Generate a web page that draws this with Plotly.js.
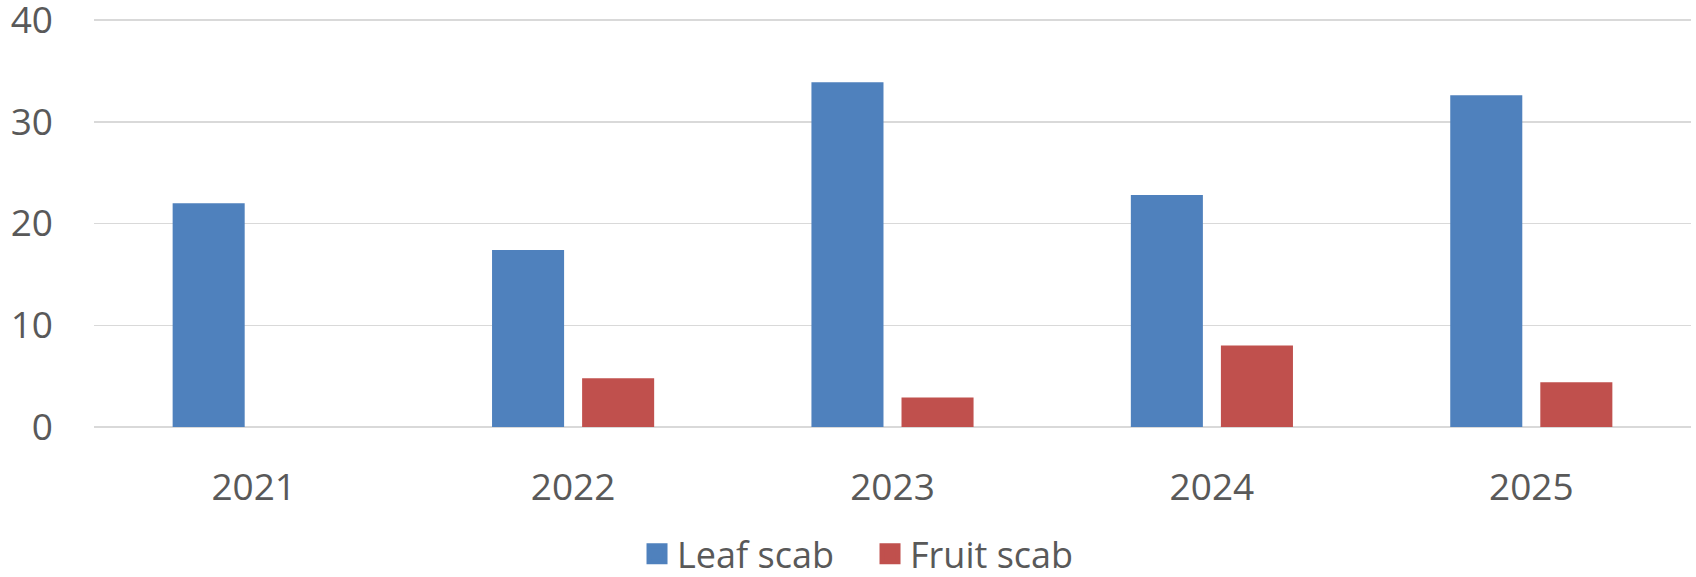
<!DOCTYPE html>
<html>
<head>
<meta charset="utf-8">
<script src="https://cdn.plot.ly/plotly-3.0.1.min.js"></script>
<style>html,body{margin:0;padding:0;background:#fff;}#chart{width:1696px;height:577px;}</style>
</head>
<body>
<div id="chart"></div>
<script>
const years = ['2021', '2022', '2023', '2024', '2025'];
const leafScab = [22.0, 17.4, 33.9, 22.8, 32.6];
const fruitScab = [null, 4.8, 2.9, 8.0, 4.4];
const seriesNames = ['Leaf scab', 'Fruit scab'];
const yTicks = [0, 10, 20, 30, 40];

const blue = '#4F81BD', red = '#C0504D';
const textColor = '#595959';
const fontFam = '"Open Sans", "Liberation Sans", sans-serif';

const traces = [
  {type: 'bar', x: years, y: leafScab, name: seriesNames[0], marker: {color: blue}, showlegend: false},
  {type: 'bar', x: years, y: fruitScab, name: seriesNames[1], marker: {color: red}, showlegend: false},
  {type: 'scatter', mode: 'markers', x: [null], y: [null], name: seriesNames[0], marker: {color: blue, symbol: 'square', size: 24, line: {color: blue, width: 5}}, showlegend: true},
  {type: 'scatter', mode: 'markers', x: [null], y: [null], name: seriesNames[1], marker: {color: red, symbol: 'square', size: 24, line: {color: red, width: 5}}, showlegend: true}
];

const layout = {
  width: 1696, height: 577,
  margin: {l: 94, r: 5, t: 15, b: 150, autoexpand: false},
  paper_bgcolor: '#fff', plot_bgcolor: '#fff',
  font: {family: fontFam, size: 37, color: textColor},
  barmode: 'group',
  bargap: 0.436,
  bargroupgap: 0.2,
  xaxis: {
    type: 'category',
    tickfont: {family: fontFam, size: 37, color: textColor},
    showgrid: false, zeroline: false, showline: false,
    ticks: '', ticklabelstandoff: 35, automargin: false
  },
  yaxis: {
    range: [0, 40.5],
    tickvals: yTicks,
    ticktext: yTicks.map(String),
    tickfont: {family: fontFam, size: 37, color: textColor},
    showgrid: true, gridcolor: '#D9D9D9', gridwidth: 1.5,
    zeroline: true, zerolinecolor: '#D9D9D9', zerolinewidth: 2,
    showline: false, ticks: '', ticklabelstandoff: 40, automargin: false,
    ticklabeloverflow: 'allow'
  },
  legend: {
    orientation: 'h',
    xref: 'container', yref: 'container',
    x: 0.3756, xanchor: 'left',
    y: 0.04, yanchor: 'middle',
    entrywidth: 188,
    font: {family: fontFam, size: 36, color: textColor},
    itemsizing: 'trace',
    bgcolor: 'rgba(0,0,0,0)'
  },
  showlegend: true
};

Plotly.newPlot('chart', traces, layout, {displayModeBar: false, staticPlot: true});
</script>
</body>
</html>
